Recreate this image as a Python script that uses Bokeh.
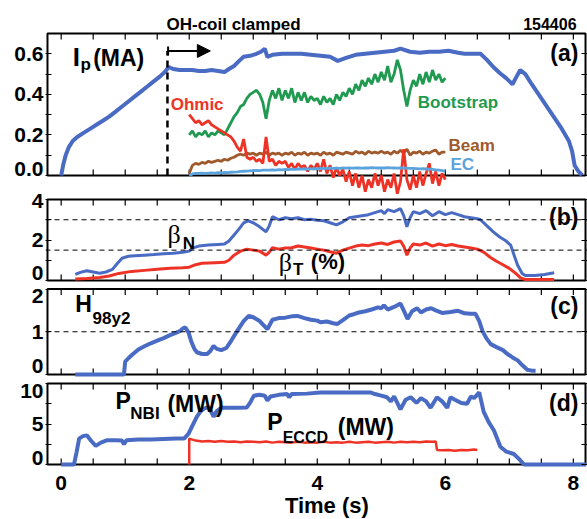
import numpy as np
from bokeh.plotting import figure
from bokeh.models import (Range1d, LinearAxis, FixedTicker, Span, Label, Arrow,
                          NormalHead, TeeHead)
from bokeh.core.properties import value
from bokeh.embed import file_html
from bokeh.resources import INLINE

# ---------------- data ----------------
SHOT = "154406"
OH_CLAMP_T = 1.66
ARROW_T = [1.67, 2.33]
ARROW_Y = 0.614

IP_T = [0.00, 0.03, 0.07, 0.12, 0.18, 0.25, 0.35, 0.45, 0.55, 0.65, 0.75, 0.85, 0.95, 1.05,
        1.15, 1.25, 1.35, 1.45, 1.55, 1.62, 1.68, 1.75, 1.85, 1.95, 2.05, 2.15, 2.25, 2.35,
        2.45, 2.55, 2.62, 2.70, 2.78, 2.85, 2.95, 3.05, 3.12, 3.18, 3.22, 3.30, 3.45, 3.60,
        3.75, 3.90, 4.05, 4.20, 4.32, 4.45, 4.60, 4.75, 4.90, 5.05, 5.20, 5.30, 5.45, 5.60,
        5.75, 5.90, 6.05, 6.20, 6.30, 6.45, 6.55, 6.65, 6.75, 6.85, 6.95, 7.05, 7.10, 7.17,
        7.25, 7.35, 7.50, 7.65, 7.80, 7.93, 7.98, 8.02, 8.08, 8.14]
IP_V = [0.00, 0.05, 0.10, 0.14, 0.17, 0.19, 0.21, 0.23, 0.25, 0.27, 0.29, 0.315, 0.34, 0.365,
        0.39, 0.415, 0.44, 0.465, 0.49, 0.51, 0.535, 0.525, 0.52, 0.52, 0.52, 0.515, 0.515, 0.52,
        0.515, 0.51, 0.525, 0.54, 0.565, 0.585, 0.59, 0.60, 0.61, 0.625, 0.585, 0.595, 0.60, 0.60,
        0.60, 0.595, 0.59, 0.585, 0.565, 0.58, 0.595, 0.60, 0.605, 0.61, 0.615, 0.625, 0.61, 0.605,
        0.61, 0.61, 0.615, 0.605, 0.60, 0.60, 0.60, 0.57, 0.535, 0.505, 0.48, 0.45, 0.48, 0.52,
        0.50, 0.45, 0.38, 0.31, 0.24, 0.17, 0.12, 0.05, 0.02, 0.0]

CD_T = [round(2.0 + 0.05 * i, 2) for i in range(81)]
BOOTSTRAP = [0.20, 0.22, 0.19, 0.21, 0.20, 0.22, 0.19, 0.21, 0.20, 0.22,
             0.21, 0.20, 0.23, 0.26, 0.29, 0.31, 0.34, 0.35, 0.38, 0.40,
             0.41, 0.42, 0.40, 0.36, 0.28, 0.37, 0.42, 0.38, 0.43, 0.37,
             0.42, 0.38, 0.43, 0.36, 0.41, 0.37, 0.41, 0.36, 0.39, 0.37,
             0.38, 0.35, 0.39, 0.36, 0.38, 0.35, 0.40, 0.37, 0.41, 0.39,
             0.43, 0.40, 0.45, 0.42, 0.47, 0.44, 0.48, 0.45, 0.50, 0.46,
             0.51, 0.47, 0.54, 0.46, 0.50, 0.57, 0.52, 0.42, 0.34, 0.42,
             0.47, 0.44, 0.50, 0.45, 0.51, 0.46, 0.52, 0.47, 0.50, 0.46,
             0.48]
OHMIC = [0.30, 0.28, 0.26, 0.27, 0.25, 0.26, 0.27, 0.25, 0.24, 0.23,
         0.22, 0.21, 0.20, 0.19, 0.17, 0.14, 0.12, 0.18, 0.09, 0.08,
         0.09, 0.07, 0.08, 0.06, 0.19, 0.07, 0.08, 0.05, 0.07, 0.06,
         0.07, 0.04, 0.06, 0.03, 0.06, 0.04, 0.05, 0.02, 0.05, 0.03,
         0.06, 0.02, 0.08, 0.01, 0.05, -0.01, 0.04, 0.00, 0.03, -0.03,
         0.02, -0.05, 0.01, -0.06, 0.00, -0.08, -0.02, -0.06, 0.01, -0.05,
         0.00, -0.08, -0.02, -0.06, 0.01, -0.09, -0.03, 0.13, -0.02, -0.07,
         0.00, -0.06, 0.02, -0.05, 0.01, 0.06, -0.04, 0.02, -0.05, 0.01,
         -0.02]
BEAM = [0.01, 0.05, 0.06, 0.055, 0.065, 0.06, 0.07, 0.065, 0.07, 0.075,
        0.07, 0.08, 0.075, 0.085, 0.09, 0.10, 0.105, 0.10, 0.11, 0.105,
        0.11, 0.10, 0.11, 0.105, 0.115, 0.10, 0.11, 0.105, 0.11, 0.10,
        0.11, 0.105, 0.115, 0.10, 0.11, 0.105, 0.115, 0.10, 0.11, 0.105,
        0.11, 0.10, 0.115, 0.105, 0.11, 0.10, 0.115, 0.11, 0.105, 0.115,
        0.11, 0.105, 0.12, 0.11, 0.115, 0.105, 0.12, 0.11, 0.115, 0.11,
        0.12, 0.11, 0.115, 0.105, 0.12, 0.11, 0.125, 0.11, 0.13, 0.10,
        0.115, 0.11, 0.12, 0.105, 0.115, 0.11, 0.12, 0.125, 0.105, 0.115,
        0.115]
EC = [0.00, 0.008, 0.01, 0.01, 0.012, 0.01, 0.012, 0.013, 0.012, 0.014,
      0.013, 0.015, 0.014, 0.016, 0.017, 0.018, 0.02, 0.021, 0.022, 0.023,
      0.024, 0.025, 0.024, 0.026, 0.027, 0.026, 0.028, 0.027, 0.029, 0.028,
      0.030, 0.029, 0.031, 0.030, 0.032, 0.031, 0.033, 0.032, 0.033, 0.034,
      0.033, 0.035, 0.034, 0.035, 0.036, 0.035, 0.036, 0.035, 0.037, 0.036,
      0.037, 0.036, 0.038, 0.037, 0.036, 0.038, 0.037, 0.039, 0.038, 0.037,
      0.038, 0.037, 0.039, 0.038, 0.037, 0.036, 0.038, 0.037, 0.036, 0.035,
      0.035, 0.034, 0.033, 0.034, 0.032, 0.031, 0.030, 0.028, 0.026, 0.024,
      0.022]

BN_T = [0.22, 0.30, 0.40, 0.50, 0.60, 0.70, 0.80, 0.88, 0.95, 1.05, 1.15, 1.30, 1.45, 1.60,
        1.75, 1.90, 2.00, 2.05, 2.15, 2.30, 2.45, 2.55, 2.62, 2.70, 2.78, 2.85, 2.92, 3.00,
        3.10, 3.20, 3.25, 3.30, 3.40, 3.50, 3.60, 3.70, 3.80, 3.90, 4.00, 4.10, 4.20, 4.30,
        4.40, 4.50, 4.60, 4.70, 4.80, 4.90, 5.00, 5.05, 5.10, 5.20, 5.30, 5.35, 5.40, 5.45,
        5.50, 5.60, 5.70, 5.80, 5.90, 6.00, 6.10, 6.20, 6.30, 6.40, 6.50, 6.55, 6.65, 6.75,
        6.85, 6.95, 7.02, 7.08, 7.13, 7.20, 7.25, 7.40, 7.55, 7.70]
BETA_N = [0.30, 0.40, 0.48, 0.42, 0.36, 0.42, 0.55, 0.85, 1.10, 1.20, 1.22, 1.25, 1.28, 1.32,
          1.35, 1.40, 1.45, 1.60, 1.70, 1.75, 1.78, 1.80, 1.95, 2.25, 2.55, 2.85, 2.95, 2.85,
          2.65, 2.40, 2.70, 3.15, 3.00, 3.10, 3.05, 3.10, 3.00, 3.02, 2.98, 2.95, 2.85, 2.75,
          2.90, 3.10, 3.15, 3.20, 3.25, 3.35, 3.45, 3.30, 3.50, 3.40, 3.55, 3.20, 2.65, 3.10,
          3.40, 3.30, 3.45, 3.20, 3.40, 3.25, 3.35, 3.25, 3.15, 3.10, 3.05, 3.00, 2.70, 2.40,
          2.15, 1.95, 1.75, 1.20, 0.75, 0.35, 0.25, 0.25, 0.30, 0.38]

BT_T = [0.22, 0.40, 0.60, 0.75, 0.90, 1.10, 1.30, 1.50, 1.70, 1.90, 2.00, 2.10, 2.20, 2.40,
        2.55, 2.62, 2.70, 2.80, 2.90, 3.00, 3.10, 3.20, 3.25, 3.30, 3.40, 3.50, 3.60, 3.70,
        3.80, 3.90, 4.00, 4.10, 4.20, 4.30, 4.40, 4.50, 4.60, 4.70, 4.80, 4.90, 5.00, 5.10,
        5.20, 5.30, 5.35, 5.40, 5.45, 5.50, 5.60, 5.70, 5.80, 5.90, 6.00, 6.10, 6.20, 6.30,
        6.40, 6.50, 6.60, 6.70, 6.80, 6.90, 7.00, 7.10, 7.18, 7.25, 7.50, 7.70]
BETA_T = [0.08, 0.10, 0.15, 0.22, 0.35, 0.45, 0.50, 0.55, 0.60, 0.63, 0.66, 0.78, 0.85, 0.88,
          0.90, 1.00, 1.25, 1.45, 1.55, 1.50, 1.45, 1.25, 1.40, 1.62, 1.55, 1.60, 1.62, 1.70,
          1.65, 1.60, 1.55, 1.50, 1.42, 1.35, 1.50, 1.60, 1.70, 1.75, 1.72, 1.80, 1.85, 1.78,
          1.90, 1.95, 1.70, 1.25, 1.60, 1.80, 1.75, 1.85, 1.70, 1.80, 1.72, 1.78, 1.70, 1.65,
          1.60, 1.55, 1.40, 1.15, 0.95, 0.78, 0.60, 0.35, 0.12, 0.05, 0.05, 0.05]

H_T = [0.22, 0.98, 1.00, 1.05, 1.10, 1.20, 1.30, 1.40, 1.50, 1.60, 1.70, 1.80, 1.86, 1.90,
       1.94, 1.99, 2.03, 2.08, 2.12, 2.20, 2.28, 2.33, 2.38, 2.43, 2.50, 2.58, 2.66, 2.75,
       2.85, 2.93, 3.00, 3.10, 3.22, 3.30, 3.40, 3.50, 3.60, 3.69, 3.80, 3.90, 4.00, 4.05,
       4.15, 4.25, 4.31, 4.40, 4.50, 4.57, 4.65, 4.75, 4.85, 4.95, 5.00, 5.04, 5.10, 5.20,
       5.30, 5.35, 5.41, 5.48, 5.56, 5.62, 5.70, 5.78, 5.85, 5.95, 6.08, 6.20, 6.30, 6.39,
       6.47, 6.53, 6.58, 6.64, 6.71, 6.80, 6.90, 6.97, 7.05, 7.13, 7.20, 7.28, 7.35, 7.41]
H98Y2 = [0.00, 0.00, 0.30, 0.38, 0.45, 0.58, 0.66, 0.73, 0.79, 0.85, 0.92, 0.98, 1.02, 1.08,
         1.10, 0.98, 0.78, 0.60, 0.52, 0.48, 0.48, 0.55, 0.67, 0.60, 0.57, 0.62, 0.80, 1.02,
         1.25, 1.37, 1.34, 1.25, 1.06, 1.28, 1.32, 1.33, 1.36, 1.37, 1.32, 1.28, 1.26, 1.22,
         1.24, 1.20, 1.18, 1.27, 1.38, 1.41, 1.45, 1.48, 1.52, 1.57, 1.55, 1.62, 1.52, 1.58,
         1.66, 1.50, 1.30, 1.48, 1.55, 1.45, 1.52, 1.55, 1.50, 1.44, 1.46, 1.49, 1.43, 1.42,
         1.42, 1.25, 1.02, 0.85, 0.71, 0.64, 0.57, 0.48, 0.40, 0.33, 0.22, 0.11, 0.09, 0.09]

NBI_T = [0.00, 0.20, 0.24, 0.28, 0.34, 0.40, 0.47, 0.54, 0.62, 0.72, 0.85, 0.95, 0.98, 1.02,
         1.20, 1.40, 1.60, 1.80, 1.92, 1.99, 2.05, 2.12, 2.18, 2.23, 2.30, 2.35, 2.38, 2.43,
         2.50, 2.60, 2.75, 2.90, 2.95, 3.01, 3.10, 3.18, 3.22, 3.27, 3.40, 3.53, 3.56, 3.60,
         3.84, 4.05, 4.40, 4.83, 4.90, 5.00, 5.09, 5.15, 5.20, 5.30, 5.38, 5.46, 5.55, 5.62,
         5.70, 5.77, 5.87, 5.95, 6.03, 6.08, 6.15, 6.25, 6.34, 6.40, 6.45, 6.53, 6.60, 6.68,
         6.76, 6.82, 6.86, 6.95, 7.07, 7.15, 7.23, 8.20]
P_NBI = [0.0, 0.0, 1.5, 3.2, 3.5, 3.6, 2.9, 2.3, 2.7, 3.0, 3.0, 2.95, 2.5, 3.0,
         3.1, 3.1, 3.15, 3.2, 3.2, 3.8, 4.8, 5.9, 6.6, 6.9, 7.1, 6.4, 5.9, 6.6,
         7.0, 7.0, 7.0, 7.05, 7.6, 8.5, 8.6, 8.5, 7.9, 8.4, 8.6, 8.7, 8.3, 8.7,
         8.75, 8.9, 8.9, 8.9, 8.7, 8.5, 8.3, 7.8, 8.4, 6.8, 8.0, 8.3, 7.6, 8.2,
         7.8, 7.0, 8.3, 7.8, 7.0, 8.3, 8.0, 7.6, 7.5, 8.4, 8.2, 8.9, 6.5, 5.2,
         4.2, 3.0, 2.2, 1.6, 1.3, 0.7, 0.0, 0.0]

ECCD_T = [2.0, 2.0, 2.1, 2.2, 2.3, 2.4, 2.5, 2.6, 2.7, 2.8, 2.9, 3.0, 3.1, 3.2, 3.3, 3.4,
          3.5, 3.6, 3.7, 3.8, 3.9, 4.0, 4.1, 4.2, 4.3, 4.4, 4.5, 4.6, 4.7, 4.8, 4.9, 5.0,
          5.1, 5.2, 5.3, 5.4, 5.5, 5.6, 5.7, 5.8, 5.85, 5.87, 5.95, 6.05, 6.15, 6.25, 6.35,
          6.45, 6.5]
P_ECCD = [0.0, 3.2, 2.95, 2.85, 2.9, 2.8, 2.9, 2.8, 2.85, 2.75, 2.85, 2.8, 2.75, 2.85, 2.7,
          2.8, 2.75, 2.7, 2.8, 2.7, 2.75, 2.7, 2.8, 2.7, 2.75, 2.7, 2.8, 2.7, 2.75, 2.8, 2.7,
          2.75, 2.8, 2.7, 2.8, 2.75, 2.8, 2.75, 2.85, 2.8, 2.85, 1.8, 1.75, 1.8, 1.7, 1.8,
          1.75, 1.85, 1.8]

BETA_N_REF = 3.0
BETA_T_REF = 1.5
H_REF = 1.0

# tick values / labels per panel: (majors, labels, minors)
TICKS = {
    "a": ([0.0, 0.2, 0.4, 0.6], ["0.0", "0.2", "0.4", "0.6"], [0.1, 0.3, 0.5]),
    "b": ([0, 2, 4], ["0", "2", "4"], [1, 3]),
    "c": ([0, 1, 2], ["0", "1", "2"], []),
    "d": ([0, 5, 10], ["0", "5", "10"], [2.5, 7.5]),
}
X_TICKS = [0.5 * i for i in range(17)]
X_LABELS = [0, 2, 4, 6, 8]
X_TITLE = "Time (s)"

# ---------------- layout (virtual px units; 0 = bottom of panel d) ----------------
FONT = "Liberation Sans"
BLUE = "#4a6bc4"
RED = "#ee3326"
GREEN = "#1f9a50"
BROWN = "#a0592a"
LBLUE = "#5ba3dc"

BOX_L, BOX_R = -0.214, 8.19
XPAD = 0.031
VMIN, VMAX = -55.0, 464.0
BANDS = {  # name: (v_bottom, v_top, data_min, data_max)
    "a": (289.0, 431.0, 0.0, 0.70),
    "b": (184.0, 265.0, 0.0, 4.0),
    "c": (90.0, 175.5, 0.0, 2.0),
    "d": (0.0, 81.0, 0.0, 10.0),
}
# inward nudges (px) of edge tick labels, as in the original figure
LABEL_NUDGE = {("a", 0.0): 7, ("b", 0): 7.5, ("b", 4): -1.5, ("c", 0): 9, ("c", 2): -6.5,
               ("d", 0): 7, ("d", 10): -7}
V_TITLE = 440.5
V_XLABELS = -18.0
V_XTITLE = -41.0
TICK_LEN = 6


def band_range(vb, vt, d0, d1):
    s = (d1 - d0) / (vt - vb)
    return Range1d(d0 - (vb - VMIN) * s, d1 + (VMAX - vt) * s)


def to_v(name, val):
    vb, vt, d0, d1 = BANDS[name]
    return round(vb + (val - d0) / (d1 - d0) * (vt - vb), 3)


p = figure(width=587, height=519, x_range=Range1d(BOX_L - XPAD, BOX_R + XPAD),
           y_range=Range1d(VMIN, VMAX), output_backend="svg", toolbar_location=None,
           x_axis_location=None, y_axis_location=None,
           min_border_left=45, min_border_right=0, min_border_top=0, min_border_bottom=0)
p.extra_y_ranges = {k: band_range(*v) for k, v in BANDS.items()}
p.xgrid.grid_line_color = None
p.ygrid.grid_line_color = None
p.outline_line_color = None

# y axes: left carries the labels (label anchors), tick marks are drawn as minor ticks
label_v, tick_v, overrides = [], [], {}
for name, (majors, labels, minors) in TICKS.items():
    for val, txt in zip(majors, labels):
        tick_v.append(to_v(name, val))
        lv = round(to_v(name, val) + LABEL_NUDGE.get((name, val), 0), 3)
        label_v.append(lv)
        overrides[lv] = txt
    for val in minors:
        tick_v.append(to_v(name, val))
tick_v = sorted(tick_v)

left = LinearAxis(ticker=FixedTicker(ticks=label_v, minor_ticks=tick_v),
                  major_label_overrides=overrides)
right = LinearAxis(ticker=FixedTicker(ticks=[], minor_ticks=tick_v))
for ax in (left, right):
    ax.axis_line_color = None
    ax.major_tick_in = 0
    ax.major_tick_out = 0
    ax.minor_tick_in = TICK_LEN
    ax.minor_tick_out = 0
    ax.minor_tick_line_width = 1.2
    ax.major_label_text_font = FONT
    ax.major_label_text_font_style = "bold"
    ax.major_label_text_font_size = "21px"
    ax.major_label_text_color = "black"
left.major_label_standoff = 2
p.add_layout(left, "left")
p.add_layout(right, "right")

# panel boxes
for name, (vb, vt, d0, d1) in BANDS.items():
    p.quad(left=[BOX_L], right=[BOX_R], bottom=[d0], top=[d1], y_range_name=name,
           fill_color=None, line_color="black", line_width=2)

# x ticks on every panel edge
nxt = len(X_TICKS)
for name, (vb, vt, d0, d1) in BANDS.items():
    p.segment(x0=X_TICKS, y0=[vt] * nxt, x1=X_TICKS, y1=[vt - TICK_LEN] * nxt,
              line_color="black", line_width=1.2)
    p.segment(x0=X_TICKS, y0=[vb] * nxt, x1=X_TICKS, y1=[vb + TICK_LEN] * nxt,
              line_color="black", line_width=1.2)

# x tick labels
p.text(x=X_LABELS, y=[V_XLABELS] * len(X_LABELS), text=[str(v) for v in X_LABELS],
       text_font=value(FONT), text_font_style="bold", text_font_size="21px",
       text_align="center", text_baseline="middle", text_color="black")


def lab(x, y, text, size, rng, color="black", bold=True, font=FONT, align="left"):
    p.add_layout(Label(x=x, y=y, text=text, text_font=font, text_font_size=f"{size}px",
                       text_font_style="bold" if bold else "normal", text_color=color,
                       text_align=align, text_baseline="middle", y_range_name=rng))


lab(4.15, V_XTITLE, X_TITLE, 22, "default", align="center")

# ---------------- panel (a) ----------------
p.line(IP_T, IP_V, color=BLUE, line_width=4, y_range_name="a")
p.line(CD_T, BOOTSTRAP, color=GREEN, line_width=2.8, y_range_name="a")
p.line(CD_T, BEAM, color=BROWN, line_width=2.8, y_range_name="a")
p.line(CD_T, OHMIC, color=RED, line_width=2.8, y_range_name="a")
p.line(CD_T, EC, color=LBLUE, line_width=2.8, y_range_name="a")
p.segment(x0=[OH_CLAMP_T], y0=[0.0], x1=[OH_CLAMP_T], y1=[ARROW_Y], y_range_name="a",
          line_color="black", line_width=2.5, line_dash="7 5")
p.add_layout(Arrow(x_start=ARROW_T[0], y_start=ARROW_Y, x_end=ARROW_T[1], y_end=ARROW_Y,
                   y_range_name="a", line_width=2, line_color="black",
                   start=TeeHead(size=9, line_width=2),
                   end=NormalHead(size=13, fill_color="black", line_color="black")))
lab(0.18, 0.585, "I", 26, "a")
lab(0.30, 0.548, "p", 17, "a")
lab(0.50, 0.58, "(MA)", 23, "a")
lab(1.71, 0.349, "Ohmic", 17, "a", RED)
lab(5.57, 0.361, "Bootstrap", 17, "a", GREEN)
lab(6.05, 0.149, "Beam", 17, "a", BROWN)
lab(6.08, 0.054, "EC", 17, "a", LBLUE)
lab(8.08, 0.604, "(a)", 23, "a", align="right")
lab(1.645, V_TITLE, "OH-coil clamped", 17, "default")
lab(8.05, V_TITLE, SHOT, 16, "default", align="right")

# ---------------- panel (b) ----------------
for ref in (BETA_N_REF, BETA_T_REF):
    p.add_layout(Span(location=ref, dimension="width", line_color="black",
                      line_width=1, line_dash="5 4", y_range_name="b"))
p.line(BN_T, BETA_N, color=BLUE, line_width=3, y_range_name="b")
p.line(BT_T, BETA_T, color=RED, line_width=3, y_range_name="b")
lab(1.66, 2.25, "β", 26, "b", bold=False, font="Liberation Serif")
lab(1.90, 1.85, "N", 17, "b")
lab(3.40, 0.90, "β", 26, "b", bold=False, font="Liberation Serif")
lab(3.62, 0.55, "T", 17, "b")
lab(3.90, 0.95, "(%)", 22, "b")
lab(8.08, 3.16, "(b)", 23, "b", align="right")

# ---------------- panel (c) ----------------
p.add_layout(Span(location=H_REF, dimension="width", line_color="black",
                  line_width=1, line_dash="5 4", y_range_name="c"))
p.line(H_T, H98Y2, color=BLUE, line_width=4, y_range_name="c")
lab(0.22, 1.65, "H", 23, "c")
lab(0.49, 1.30, "98y2", 17, "c")
lab(8.08, 1.60, "(c)", 23, "c", align="right")

# ---------------- panel (d) ----------------
p.line(NBI_T, P_NBI, color=BLUE, line_width=4, y_range_name="d")
p.line(ECCD_T, P_ECCD, color=RED, line_width=2.5, y_range_name="d")
lab(0.85, 7.8, "P", 23, "d")
lab(1.08, 6.3, "NBI", 17, "d")
lab(1.66, 7.5, "(MW)", 23, "d")
lab(3.22, 5.3, "P", 23, "d")
lab(3.46, 3.35, "ECCD", 16, "d")
lab(4.32, 4.6, "(MW)", 23, "d")
lab(8.08, 7.65, "(d)", 23, "d", align="right")

open("out.html", "w").write(file_html(p, INLINE))
